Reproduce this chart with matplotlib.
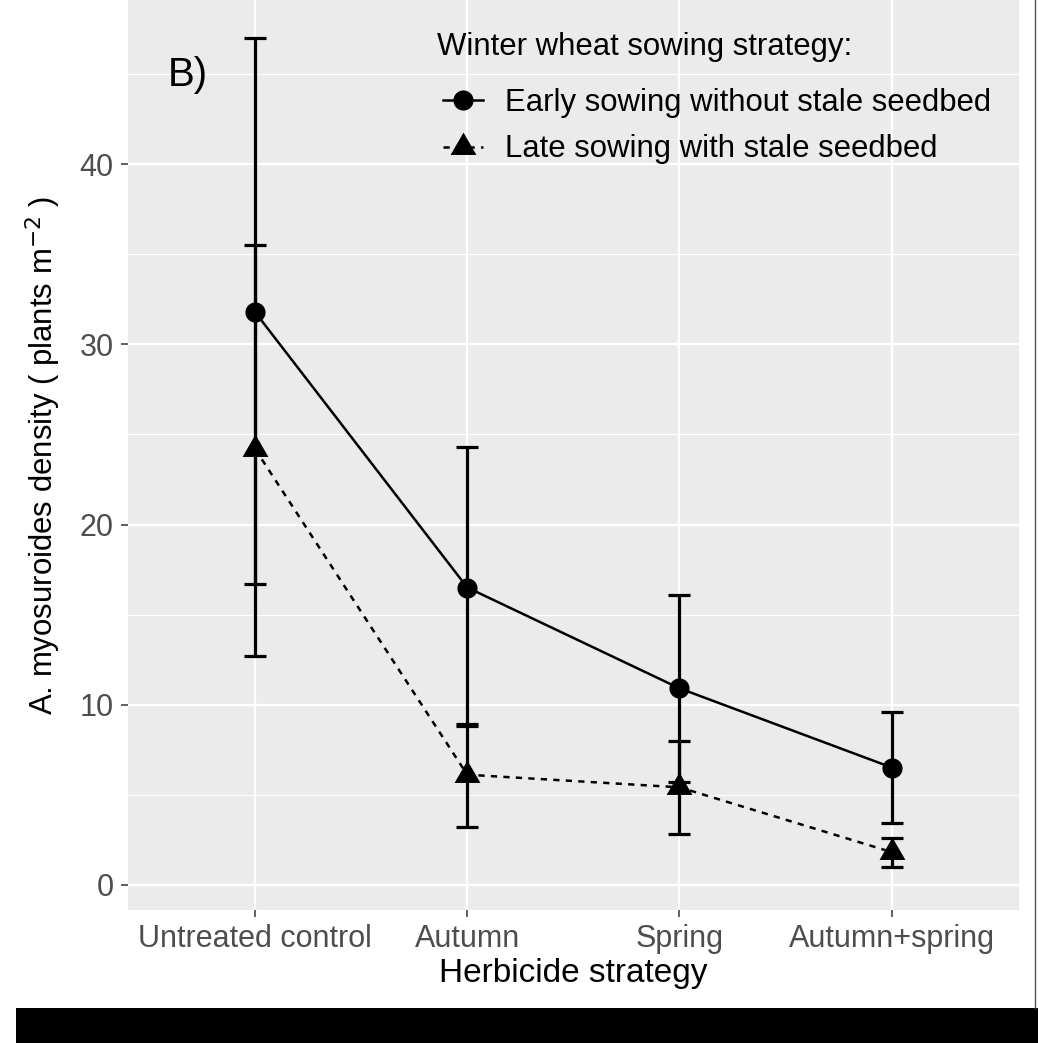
import matplotlib
matplotlib.use("Agg")
import matplotlib.pyplot as plt
from matplotlib.path import Path
from matplotlib.lines import Line2D
from matplotlib.patches import Rectangle
import numpy as np

plt.rcParams['font.family'] = ['Liberation Sans', 'DejaVu Sans']

categories = ["Untreated control", "Autumn", "Spring", "Autumn+spring"]
series_names = ["Early sowing without stale seedbed", "Late sowing with stale seedbed"]
legend_title = "Winter wheat sowing strategy:"
early_mean = [31.8, 16.5, 10.9, 6.5]
early_low = [16.7, 8.8, 5.7, 3.4]
early_high = [47.0, 24.3, 16.1, 9.6]
late_mean = [24.2, 6.1, 5.4, 1.8]
late_low = [12.7, 3.2, 2.8, 1.0]
late_high = [35.5, 8.9, 8.0, 2.6]
yticks = [0, 10, 20, 30, 40]

W, H = 1038, 1043
fig = plt.figure(figsize=(W / 100, H / 100), dpi=100)
fig.patch.set_facecolor("white")

left_px, right_px, top_px, bottom_px = 127.7, 1019.0, 0.0, 910.0
ax = fig.add_axes([left_px / W, 1 - bottom_px / H, (right_px - left_px) / W, (bottom_px - top_px) / H])
ax.set_facecolor("#EBEBEB")
for s in ax.spines.values():
    s.set_visible(False)

x = np.arange(len(categories))

tri = Path([(0, 1), (-0.866, -0.5), (0.866, -0.5), (0, 1)],
           [Path.MOVETO, Path.LINETO, Path.LINETO, Path.CLOSEPOLY])

def draw(mean, low, high, ls, marker, ms, label):
    m = np.array(mean); lo = np.array(low); hi = np.array(high)
    ax.errorbar(x, m, yerr=[m - lo, hi - m], fmt='none', ecolor='black',
                elinewidth=2.3, capsize=7.9, capthick=2.3, zorder=3)
    ln, = ax.plot(x, m, color='black', lw=1.8, linestyle=ls, marker=marker,
                  markersize=ms, markerfacecolor='black', markeredgecolor='black',
                  markeredgewidth=0, zorder=4, label=label)
    return ln

h1 = draw(early_mean, early_low, early_high, '-', 'o', 14.5, series_names[0])
h2 = draw(late_mean, late_low, late_high, (0, (2.5, 2.5)), tri, 21.5, series_names[1])

ax.set_xlim(-0.6, 3.6)
ax.set_ylim(-25.5 / 18, 884.5 / 18)
ax.set_xticks(x)
ax.set_xticklabels(categories)
ax.set_yticks(yticks)
ax.set_yticks([5, 15, 25, 35, 45], minor=True)
ax.grid(which='major', color='white', lw=1.7)
ax.grid(which='minor', axis='y', color='white', lw=0.85)
ax.set_axisbelow(True)
ax.tick_params(axis='both', which='major', length=5, width=1.1, color='#333333',
               labelsize=22, labelcolor='#4D4D4D', pad=5)
ax.tick_params(axis='y', which='minor', length=0)

ax.set_xlabel("Herbicide strategy", fontsize=24, color='black', labelpad=3)
ax.set_ylabel(r"A. myosuroides density ( plants m$^{-2}$ )", fontsize=22.4, color='black', labelpad=12)

ax.text(168 / W, 1 - 75 / H, "B)", transform=fig.transFigure, fontsize=29,
        ha='left', va='center', color='black')

fig.text(437 / W, 1 - 47 / H, legend_title, fontsize=22.4, ha='left', va='center', color='black')
leg = ax.legend(handles=[h1, h2], loc='upper left', bbox_to_anchor=(443 / W, 1 - 88 / H),
                bbox_transform=fig.transFigure, frameon=False, fontsize=22.4,
                handlelength=1.3, handletextpad=0.7, labelspacing=0.53,
                borderaxespad=0, borderpad=0)

# frame decorations of the image
fig.add_artist(Rectangle((16 / W, 0), (W - 16) / W, (H - 1008) / H, transform=fig.transFigure,
                         facecolor='black', edgecolor='none'))
fig.add_artist(Line2D([1034.5 / W, 1034.5 / W], [1 - 1008 / H, 1], transform=fig.transFigure,
                      color='#555555', lw=1.0))

fig.savefig("out.png", dpi=100, facecolor="white")
